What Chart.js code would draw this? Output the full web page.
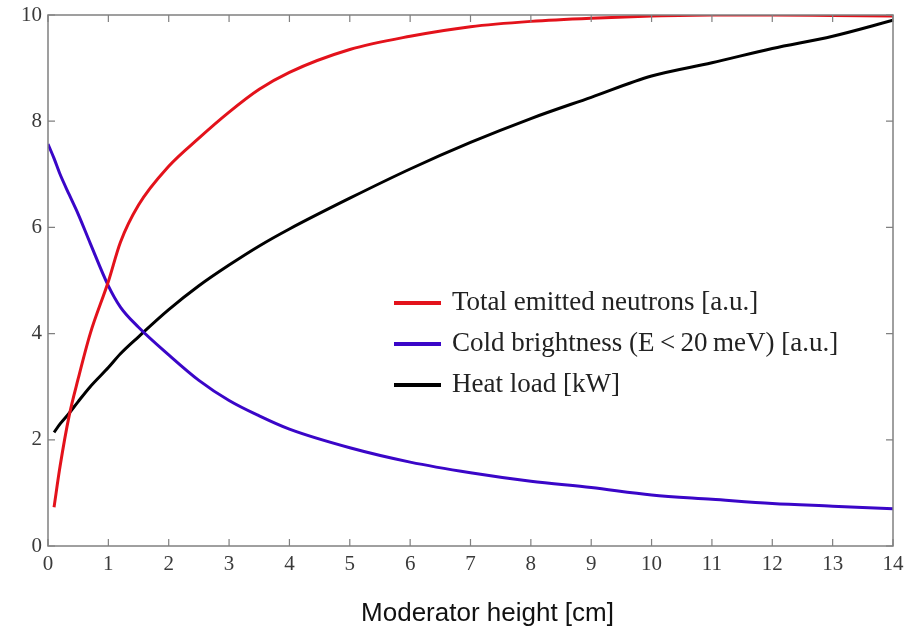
<!DOCTYPE html>
<html>
<head>
<meta charset="utf-8">
<script src="https://cdn.jsdelivr.net/npm/chart.js"></script>
<style>
  html, body { margin: 0; padding: 0; background: #fff; }
  #wrap { width: 906px; height: 630px; }
</style>
</head>
<body>
<div id="wrap"><canvas id="chart" width="906" height="630"></canvas></div>
<script>
// Moderator height [cm]
const heights = [0, 0.1, 0.2, 0.35, 0.5, 0.7, 1.0, 1.2, 1.5, 2, 2.5, 3, 3.5, 4, 5, 6, 7, 8, 9, 10, 11, 12, 13, 14];
const totalNeutrons = [null, 0.73, 1.5, 2.45, 3.15, 4.0, 4.98, 5.72, 6.42, 7.15, 7.68, 8.17, 8.6, 8.92, 9.35, 9.6, 9.78, 9.88, 9.94, 9.98, 10.0, 10.0, 9.99, 9.98];
const coldBrightness = [7.57, 7.3, 7.0, 6.62, 6.25, 5.7, 4.9, 4.5, 4.12, 3.6, 3.12, 2.74, 2.45, 2.2, 1.85, 1.58, 1.38, 1.22, 1.1, 0.96, 0.88, 0.8, 0.75, 0.7];
const heatLoad = [null, 2.14, 2.3, 2.5, 2.72, 3.0, 3.36, 3.62, 3.94, 4.45, 4.9, 5.29, 5.65, 5.97, 6.55, 7.1, 7.6, 8.05, 8.45, 8.85, 9.1, 9.37, 9.6, 9.9];
const seriesNames = ["Total emitted neutrons [a.u.]", "Cold brightness (E\u2009<\u200920\u2009meV) [a.u.]", "Heat load [kW]"];
const seriesColors = ["#e3121b", "#3a06c8", "#000000"];
const xLabel = "Moderator height [cm]";

const toPoints = ys => heights.map((x, i) => ({ x: x, y: ys[i] }));

// axis box, inward ticks on all sides, and the legend inside the plot
const frame = {
    id: "frame",
    afterDraw(chart) {
        const ctx = chart.ctx;
        const a = chart.chartArea;
        const xs = chart.scales.x, ys = chart.scales.y;
        ctx.save();
        ctx.strokeStyle = "#808080";
        ctx.lineWidth = 1.5;
        ctx.strokeRect(a.left, a.top, a.right - a.left, a.bottom - a.top);
        ctx.lineWidth = 1.2;
        ctx.beginPath();
        xs.ticks.forEach(t => {
            const px = xs.getPixelForValue(t.value);
            ctx.moveTo(px, a.bottom); ctx.lineTo(px, a.bottom - 7);
            ctx.moveTo(px, a.top); ctx.lineTo(px, a.top + 7);
        });
        ys.ticks.forEach(t => {
            const py = ys.getPixelForValue(t.value);
            ctx.moveTo(a.left, py); ctx.lineTo(a.left + 7, py);
            ctx.moveTo(a.right, py); ctx.lineTo(a.right - 7, py);
        });
        ctx.stroke();

        // legend
        const lx = 394, ly = 303, step = 41;
        ctx.font = "27px 'Liberation Serif'";
        ctx.textBaseline = "middle";
        ctx.fillStyle = "#222";
        chart.data.datasets.forEach((ds, i) => {
            const y = ly + i * step;
            ctx.strokeStyle = ds.borderColor;
            ctx.lineWidth = 4;
            ctx.beginPath();
            ctx.moveTo(lx, y); ctx.lineTo(lx + 47, y);
            ctx.stroke();
            ctx.fillText(ds.label, lx + 58, y);
        });

        // x axis title (sans, set a bit right of the plot centre)
        ctx.font = "26px 'Liberation Sans'";
        ctx.fillStyle = "#111";
        ctx.textAlign = "center";
        ctx.textBaseline = "alphabetic";
        ctx.fillText(xLabel, (a.left + a.right) / 2 + 17, 621);
        ctx.restore();
    }
};

new Chart(document.getElementById("chart"), {
    type: "line",
    data: {
        datasets: [
            { label: seriesNames[0], data: toPoints(totalNeutrons), borderColor: seriesColors[0] },
            { label: seriesNames[1], data: toPoints(coldBrightness), borderColor: seriesColors[1] },
            { label: seriesNames[2], data: toPoints(heatLoad), borderColor: seriesColors[2] }
        ]
    },
    options: {
        responsive: false,
        animation: false,
        devicePixelRatio: 1,
        layout: { padding: { top: 15, right: 13, left: 0, bottom: 0 } },
        elements: {
            point: { radius: 0 },
            line: { borderWidth: 3, cubicInterpolationMode: "monotone" }
        },
        plugins: {
            legend: { display: false },
            tooltip: { enabled: false }
        },
        scales: {
            x: {
                type: "linear",
                min: 0,
                max: 14,
                grid: { display: false, drawTicks: false },
                border: { display: false },
                ticks: {
                    stepSize: 1,
                    padding: 6,
                    maxRotation: 0,
                    color: "#3a3a3a",
                    font: { family: "'Liberation Serif'", size: 21 }
                },
                afterFit(scale) {
                    scale.height = 84;
                    scale.paddingLeft = 0;
                    scale.paddingRight = 0;
                }
            },
            y: {
                min: 0,
                max: 10,
                grid: { display: false, drawTicks: false },
                border: { display: false },
                ticks: {
                    stepSize: 2,
                    padding: 6,
                    color: "#3a3a3a",
                    font: { family: "'Liberation Serif'", size: 21 }
                },
                afterFit(scale) {
                    scale.width = 48;
                    scale.paddingTop = 0;
                    scale.paddingBottom = 0;
                }
            }
        }
    },
    plugins: [frame]
});
</script>
</body>
</html>
